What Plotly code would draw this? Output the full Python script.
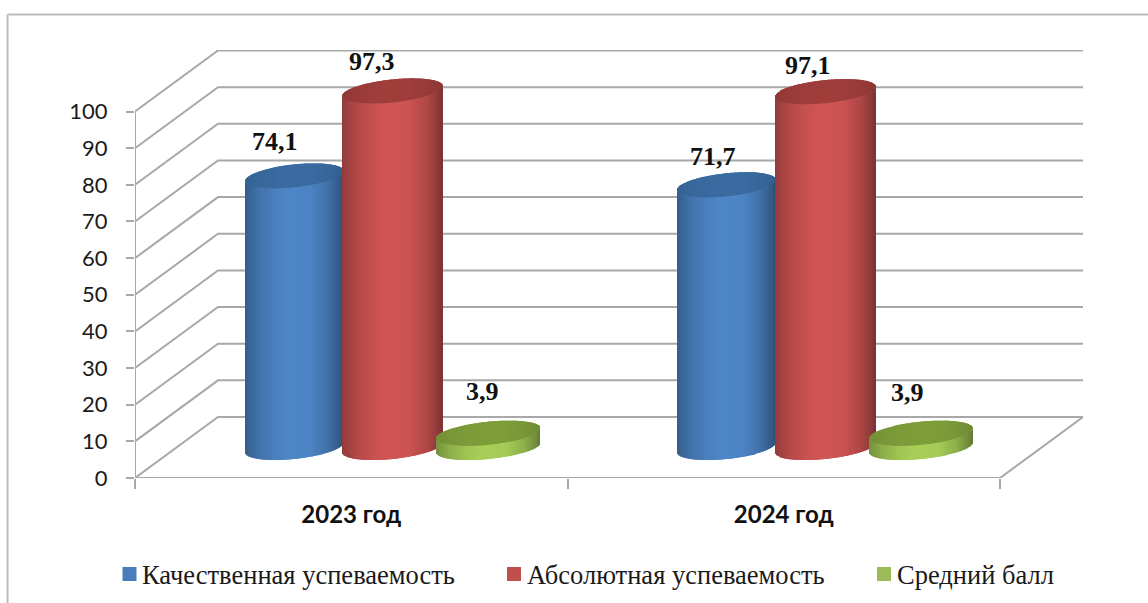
import math
import plotly.graph_objects as go

categories = ["2023 год", "2024 год"]
series_names = ["Качественная успеваемость", "Абсолютная успеваемость", "Средний балл"]
quality = [74.1, 71.7]
absolute = [97.3, 97.1]
average = [3.9, 3.9]
y_ticks = [0, 10, 20, 30, 40, 50, 60, 70, 80, 90, 100]

# --- scales: pixels per category and per value unit
PX_X, PX_Y = 432.5, 3.665
L, R, B, T = 135, 1083, 478, 50
W, H = 1148, 603
DEPTH_X, DEPTH_Y = 83 / PX_X, 61 / PX_Y
x_range = [0, (R - L) / PX_X]
y_range = [0, (B - T) / PX_Y]

offsets = [-0.1317, 0.0955, 0.3173]          # cylinder centre relative to category centre
half_widths = [49 / PX_X, 50 / PX_X, 51.5 / PX_X]
ry = 11.5 / PX_Y
tilt = 5 / PX_Y
STOPS = [(-1.0, .70), (-.75, .84), (-.4, .95), (-.1, 1.0), (.35, .98), (.7, .84), (.92, .68), (1.0, .60)]
body_rgb = [(78, 134, 200), (209, 85, 85), (168, 208, 88)]
top_rgb = [(58, 108, 162), (160, 62, 60), (126, 158, 58)]
text_font = "Liberation Serif"
tick_font = "Lato"
GRID = "#a8a8a8"


def shade(u, rgb, strength=1.0):
    for (a, fa), (b, fb) in zip(STOPS, STOPS[1:]):
        if a <= u <= b:
            f = fa + (fb - fa) * (u - a) / (b - a)
            break
    f = 1 - (1 - f) * strength
    return "rgb(%d,%d,%d)" % tuple(min(255, c * f) for c in rgb)


def cyl_center(i, s):
    return i + 0.5 + offsets[s]


def cylinder_slices(s, vals):
    xs, bases, hs, cols = [], [], [], []
    base_c = DEPTH_Y / 2
    half_w = half_widths[s]
    n = 2 * int(round(half_w * PX_X)) + 1
    for i, v in enumerate(vals):
        cx = cyl_center(i, s)
        for k in range(n):
            u = -1 + 2 * (k + .5) / n
            r = math.sqrt(1 - u * u)
            lo = base_c + tilt * u - ry * r
            hi = base_c + v + tilt * u - ry * r
            xs.append(cx + u * half_w); bases.append(lo); hs.append(hi - lo); cols.append(shade(u, body_rgb[s]))
        for k in range(n):
            u = -1 + 2 * (k + .5) / n
            r = math.sqrt(1 - u * u)
            lo = base_c + v + tilt * u - ry * r
            hi = base_c + v + tilt * u + ry * r
            xs.append(cx + u * half_w); bases.append(lo); hs.append(hi - lo); cols.append(shade(u, top_rgb[s], .3))
    return xs, bases, hs, cols


fig = go.Figure()

# walls and floor (under the cylinders, on the base axes)
wx, wy = [], []
for v in y_ticks:
    wx += [0, DEPTH_X, 2 + DEPTH_X, None]
    wy += [v, v + DEPTH_Y, v + DEPTH_Y, None]
wx += [0, 0, None, 0, 2, 2 + DEPTH_X]
wy += [0, 100, None, 0, 0, DEPTH_Y]
fig.add_trace(go.Scatter(x=wx, y=wy, mode="lines", line=dict(color=GRID, width=2),
                         showlegend=False, hoverinfo="skip", cliponaxis=False))

# cylinders
for s, vals in enumerate([quality, absolute, average]):
    xs, bases, hs, cols = cylinder_slices(s, vals)
    fig.add_trace(go.Bar(x=xs, y=hs, base=bases, width=1.0 / PX_X, name=series_names[s],
                         marker=dict(color=cols, line=dict(width=0)), xaxis="x2", yaxis="y2",
                         showlegend=False, hoverinfo="skip"))

# value labels
nudges = {(0, 0): (-19.5, 34.5), (1, 0): (-21, 29), (2, 0): (-6, 42),
          (0, 1): (-13.5, 28), (1, 1): (-17, 26), (2, 1): (-13, 41)}
annotations = []
for s, vals in enumerate([quality, absolute, average]):
    for i, v in enumerate(vals):
        dx, dy = nudges[(s, i)]
        annotations.append(dict(x=cyl_center(i, s), y=v + DEPTH_Y / 2, xref="x2", yref="y2",
                                text="<b>%s</b>" % str(v).replace(".", ","), showarrow=False,
                                xshift=dx, yshift=dy, font=dict(family=text_font, size=26, color="#111111")))

px = lambda v: (v - L) / (R - L)
py = lambda v: (B - v) / (B - T)
frame = dict(type="line", xref="paper", yref="paper", line=dict(color="#bdbdbd", width=2))
shapes = [dict(frame, x0=px(7.5), x1=px(7.5), y0=py(14.5), y1=py(W)),
          dict(frame, x0=px(7.5), x1=px(W + 10), y0=py(14.5), y1=py(14.5))]

# legend row
legend_cy = 574
legend_px = [129.5, 514, 884]
legend_col = ["#4a7ebb", "#c0504d", "#9bbb59"]
for name, cx, col in zip(series_names, legend_px, legend_col):
    shapes.append(dict(type="rect", xref="paper", yref="paper", x0=px(cx - 7), x1=px(cx + 7),
                       y0=py(legend_cy + 7), y1=py(legend_cy - 7), fillcolor=col, line=dict(width=0)))
    annotations.append(dict(x=px(cx + 10.5), y=py(legend_cy + 1), xref="paper", yref="paper", text=name,
                            xanchor="left", yanchor="middle", showarrow=False,
                            font=dict(family=text_font, size=26.5, color="#1a1a1a")))

fig.update_layout(
    width=W, height=H, margin=dict(l=L, r=W - R, t=T, b=H - B, pad=0),
    paper_bgcolor="white", plot_bgcolor="white", barmode="overlay", showlegend=False,
    annotations=annotations, shapes=shapes,
    xaxis=dict(range=x_range, showgrid=False, zeroline=False, showline=False,
               tickmode="array", tickvals=[0.5, 1.5], ticktext=["<b>%s</b>" % c for c in categories],
               ticks="", ticklabelstandoff=20, tickfont=dict(family=tick_font, size=24, color="#111111"),
               minor=dict(tickmode="array", tickvals=[0, 1, 2], ticks="outside", ticklen=10,
                          tickwidth=2, tickcolor=GRID)),
    yaxis=dict(range=y_range, showgrid=False, zeroline=False, showline=False,
               tickmode="array", tickvals=y_ticks, ticks="outside", ticklen=8, tickwidth=2, tickcolor=GRID,
               ticklabelstandoff=14, tickfont=dict(family=tick_font, size=22, color="#1a1a1a")),
    xaxis2=dict(range=x_range, overlaying="x", visible=False),
    yaxis2=dict(range=y_range, overlaying="y", visible=False),
)
fig.write_html("out.html", post_script="document.body.style.margin='0';",
               config={"displayModeBar": False})
